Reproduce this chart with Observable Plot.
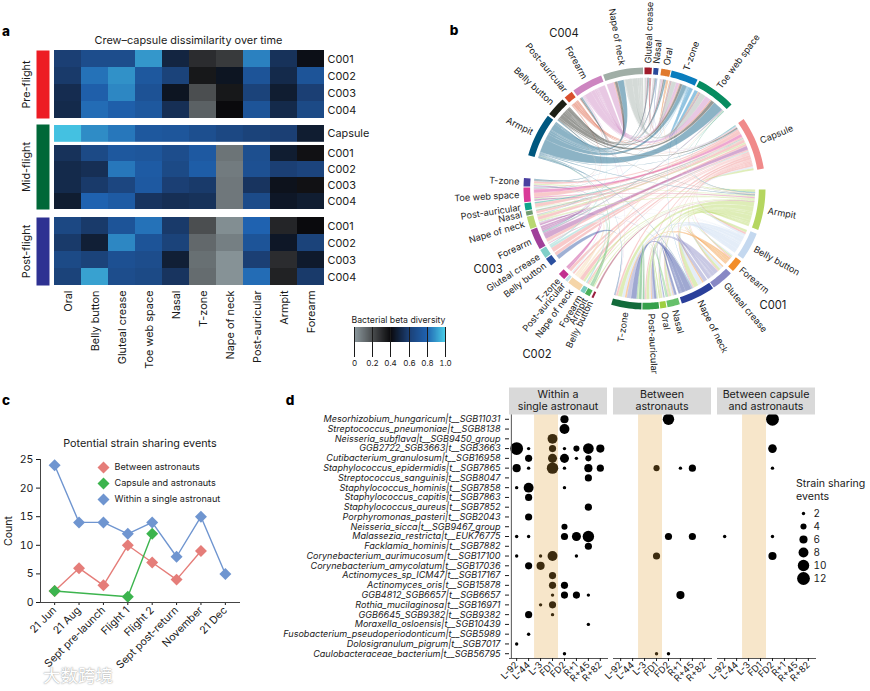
<!DOCTYPE html>
<html><head><meta charset="utf-8">
<script src="https://cdn.jsdelivr.net/npm/d3@7"></script>
<script src="https://cdn.jsdelivr.net/npm/@observablehq/plot@0.6"></script>
<style>
html,body{margin:0;padding:0;background:#fff}
#page{position:relative;width:870px;height:691px;overflow:hidden;font-family:Inter,"Liberation Sans",sans-serif;color:#1a1a1a}
#page svg{position:absolute;max-width:none}
.t{position:absolute;white-space:nowrap;transform:translate(-50%,-50%);line-height:1.25;text-align:center}
</style></head><body><div id="page"></div>
<script>
// ---------- panel a ----------
const sites=["Oral","Belly button","Gluteal crease","Toe web space","Nasal","T-zone","Nape of neck","Post-auricular","Armpit","Forearm"];
const crew=["C001","C002","C003","C004"];
const preFlight=[[.60,.68,.68,.90,.50,.30,.26,.86,.55,.42],[.58,.83,.89,.74,.62,.36,.44,.72,.52,.72],[.53,.78,.87,.71,.44,.20,.36,.62,.47,.60],[.52,.82,.78,.74,.54,.15,.40,.72,.52,.66]];
const capsuleRow=[[.98,.88,.84,.74,.73,.69,.65,.62,.60,.47]];
const midFlight=[[.55,.66,.74,.73,.68,.75,.10,.69,.47,.38],[.52,.54,.84,.76,.66,.77,.08,.70,.60,.63],[.52,.58,.64,.75,.60,.58,.09,.56,.43,.38],[.47,.80,.76,.56,.54,.55,.09,.67,.45,.47]];
const postFlight=[[.65,.58,.72,.83,.58,.20,.03,.80,.32,.40],[.58,.48,.87,.72,.62,.13,.07,.72,.45,.62],[.66,.62,.70,.68,.48,.11,.02,.60,.30,.46],[.62,.92,.68,.66,.56,.12,.02,.82,.33,.58]];
const divStops=[0,.2,.4,.6,.8,1];
const divColors=["#8c999e","#4b4e50","#0a0a0d","#1b3f74","#1f62b0","#48cbe6"];
// ---------- panel b ----------
const sectorIds=["Ar4","BB4","PA4","FA4","NN4","GC4","Ns4","Or4","TZ4","TW4","Ca","Ar1","BB1","FA1","GC1","NN1","Ns1","Or1","PA1","TZ1","BB2","Ar2","FA2","NN2","PA2","TZ2","BB3","GC3","FA3","NN3","Ns3","PA3","TW3","TZ3"];
const sectorLabels=["Armpit","Belly button","Post-auricular","Forearm","Nape of neck","Gluteal crease","Nasal","Oral","T-zone","Toe web space","Capsule","Armpit","Belly button","Forearm","Gluteal crease","Nape of neck","Nasal","Oral","Post-auricular","T-zone","Belly button","Armpit","Forearm","Nape of neck","Post-auricular","T-zone","Belly button","Gluteal crease","Forearm","Nape of neck","Nasal","Post-auricular","Toe web space","T-zone"];
const sectorStart=[286,308,318.7,324,340,0,4.3,8,13,27,55,90.5,112,127,134.5,145.5,163,169.5,173,181.5,205,207,209.8,212.5,219.5,221.5,230.5,235,240,250.5,257,259.5,263.5,271];
const sectorEnd=[307,317.4,323,339,359.3,3.5,6.7,12.5,26,46,80.5,110,125.5,133,145,162,169,172.5,181,196,206,209.5,212,219,221,225,234.5,239.5,250,256.5,259,263,270.5,275];
const sectorColors=["#00577f","#1d2016","#d94f2e","#cd85c0","#a0aea6","#a01c2b","#2b4a9a","#e07a2e","#0a7dbd","#078c60","#f08a8a","#b5d660","#c4d8ef","#f28e2b","#8888c4","#2a3f9a","#66c06a","#9ecf40","#35a04b","#126b3a","#9a2040","#4bb05a","#7ccdc0","#f5d5a8","#c4e0e8","#c22f8f","#2b4f9f","#7fcfc8","#a0409a","#b8d870","#6f9b70","#0fa58c","#d93a98","#4a3fa0"];
const chordLinks=[
["Ca","TZ3",1.2],["Ca","TW3",2.5],["Ca","PA3",1],["Ca","Ns3",.5],["Ca","NN3",2],["Ca","FA3",1.5],["Ca","GC3",1],["Ca","BB3",.5],["Ca","TZ1",1.5],["Ca","PA1",1.5],["Ca","NN1",1],["Ca","Ns1",.7],["Ca","Or1",.3],["Ca","GC1",.8],["Ca","FA1",.8],["Ca","BB1",1.2],["Ca","TZ2",.5],["Ca","NN2",.7],["Ca","FA2",.3],["Ca","PA2",.3],
["Ar1","TZ1",3],["Ar1","PA1",3],["Ar1","Or1",1],["Ar1","Ns1",1.5],["Ar1","NN1",3],["Ar1","GC1",1.5],["Ar1","FA1",.8],["Ar1","BB1",1.5],["Ar1","Ca",1.5],["Ar1","TZ3",.6],["Ar1","NN3",.6],["Ar1","TW3",.4],["Ar1","NN2",.4],["Ar1","FA2",.2],["Ar1","PA3",.2],["Ar1","Ar2",.2],
["BB1","NN1",3],["BB1","TZ1",2],["BB1","PA1",1.5],["BB1","Ns1",1],["BB1","Or1",.5],["BB1","GC1",2],["BB1","FA1",.7],["BB1","NN3",.3],["BB1","FA3",.3],["BB1","Ca",1],
["FA1","TZ1",1.3],["FA1","PA1",1],["FA1","NN1",1],["FA1","Ns1",.5],["FA1","GC1",.8],
["GC1","TZ1",3],["GC1","PA1",2],["GC1","NN1",2.5],["GC1","Ns1",.6],["GC1","Or1",.3],
["NN1","TZ1",4],["NN1","PA1",2.5],["NN1","Ns1",1.5],["NN1","Or1",.6],["NN1","NN3",.3],
["Ns1","TZ1",1],["Ns1","PA1",.7],["Or1","TZ1",.5],["Or1","PA1",.5],["PA1","TZ1",2],
["BB2","Ar1",.3],["Ar2","Ar4",.3],["Ar2","TW3",.3],["FA2","TZ3",.3],["NN2","FA3",.4],["NN2","TW4",.4],["NN2","NN3",.3],["PA2","PA3",.2],["TZ2","NN3",.3],["TZ2","FA3",.3],
["FA3","Ca",2.5],["FA3","NN3",1],["FA3","TW3",.8],["FA3","TZ3",.6],["FA3","TW4",.5],
["TW3","Ca",2],["TW3","Ar1",.6],["NN3","Ca",1],["NN3","Ar1",.5],["PA3","Ca",.4],["Ns3","Ca",.3],["GC3","Ca",.5],["GC3","FA4",.3],["BB3","TZ1",.6],
["TW4","Ca",.4],["TW4","Ar1",.4],["TW4","FA3",.3],
["TZ4","TW4",2.5],["TZ4","Ar1",.4],["TZ4","Ca",.5],["TZ4","NN1",.3],["TZ4","TZ3",.3],["TZ4","NN3",.3],
["Or4","TW4",.8],["Or4","TZ4",.6],["Or4","Ar1",.3],["Ns4","TW4",.5],["Ns4","TZ4",.4],["GC4","TW4",.6],["GC4","TZ4",.5],
["NN4","TW4",4],["NN4","TZ4",3],["NN4","Or4",1],["NN4","Ns4",1],["NN4","GC4",1],["NN4","Ca",.4],["NN4","Ar1",.3],
["FA4","NN4",4],["FA4","TW4",4],["FA4","TZ4",2],["FA4","Or4",1],["FA4","Ns4",.6],["FA4","GC4",.5],["FA4","Ca",.5],["FA4","PA1",.3],["FA4","TW3",.3],["FA4","TZ1",.3],
["PA4","TW4",.8],["PA4","NN4",.6],["PA4","TZ4",.6],["PA4","FA4",.4],["PA4","Or4",.2],["PA4","Ca",.2],["PA4","NN3",.2],["PA4","TW3",.2],
["Ar4","TW4",7],["Ar4","NN4",3.5],["Ar4","TZ4",3],["Ar4","Or4",1.2],["Ar4","Ns4",1],["Ar4","GC4",.5],["Ar4","FA4",.7],["Ar4","BB4",.5],["Ar4","Ca",.4],["Ar4","Ar1",.5],["Ar4","NN1",.4],["Ar4","TZ1",.4],["Ar4","TZ3",.5],["Ar4","FA3",.3],["Ar4","TW3",.4],
["BB4","TW4",2.3],["BB4","NN4",1.5],["BB4","TZ4",1.5],["BB4","Or4",.8],["BB4","Ns4",.5],["BB4","GC4",.5],["BB4","FA4",.6],["BB4","Ca",.8],["BB4","TZ3",.3],["BB4","Ar1",.3]
];
// ---------- panel c ----------
const events=["21 Jun","21 Aug","Sept pre-launch","Flight 1","Flight 2","Sept post-return","November","21 Dec"];
const seriesNames=["Between astronauts","Capsule and astronauts","Within a single astronaut"];
const seriesColors=["#e57d79","#3cb44e","#6f95d0"];
const betweenCounts=[2,6,3,10,7,4,9,null];
const capsuleCounts=[2,null,null,1,12,null,null,null];
const withinCounts=[24,14,14,12,14,8,15,5];
// ---------- panel d ----------
const timepoints=["L-92","L-44","L-3","FD1","FD2","R+1","R+45","R+82"];
const panels=["Within a single astronaut","Between astronauts","Between capsule and astronauts"];
const species=["Mesorhizobium_hungaricum|t__SGB11031","Streptococcus_pneumoniae|t__SGB8138","Neisseria_subflava|t__SGB9450_group","GGB2722_SGB3663|t__SGB3663","Cutibacterium_granulosum|t__SGB16958","Staphylococcus_epidermidis|t__SGB7865","Streptococcus_sanguinis|t__SGB8047","Staphylococcus_hominis|t__SGB7858","Staphylococcus_capitis|t__SGB7863","Staphylococcus_aureus|t__SGB7852","Porphyromonas_pasteri|t__SGB2043","Neisseria_sicca|t__SGB9467_group","Malassezia_restricta|t__EUK76775","Facklamia_hominis|t__SGB7882","Corynebacterium_aurimucosum|t__SGB17100","Corynebacterium_amycolatum|t__SGB17036","Actinomyces_sp_ICM47|t__SGB17167","Actinomyces_oris|t__SGB15878","GGB4812_SGB6657|t__SGB6657","Rothia_mucilaginosa|t__SGB16971","GGB6645_SGB9382|t__SGB9382","Moraxella_osloensis|t__SGB10439","Fusobacterium_pseudoperiodonticum|t__SGB5989","Dolosigranulum_pigrum|t__SGB7017","Caulobacteraceae_bacterium|t__SGB56795"];
const withinMatrix=[[0,0,0,0,6,0,0,0],[0,0,0,0,8,0,0,0],[0,0,0,8,0,0,0,0],[12,2,0,5,2,4,9,6],[0,5,0,7,7,2,4,0],[6,2,0,10,2,0,6,5],[0,0,0,0,0,0,5,0],[2,8,0,0,2,0,0,0],[0,5,0,0,0,0,0,0],[0,0,0,0,0,0,5,0],[0,5,0,0,0,0,0,0],[0,0,0,0,4,0,0,0],[2,2,0,0,5,7,10,0],[0,0,0,0,0,0,5,0],[2,0,2,8,0,2,0,0],[0,5,6,0,0,0,0,0],[0,0,0,5,0,0,0,0],[0,0,0,5,5,0,0,0],[0,0,0,2,5,5,2,0],[0,0,2,5,0,0,0,0],[0,5,0,2,0,0,0,0],[0,0,0,0,0,0,2,0],[0,2,0,0,0,0,0,0],[2,0,0,0,0,0,0,0],[0,0,0,0,2,0,0,0]];
const betweenMatrix=[[0,0,0,0,10,0,0,0],[],[],[],[],[0,0,0,4,0,2,5,0],[],[],[],[],[],[],[0,0,0,0,5,0,5,0],[],[0,0,0,5,0,0,0,0],[],[],[],[0,0,0,0,0,6,0,0],[],[],[],[],[],[0,0,0,2,2,0,0,0]];
const capsuleMatrix=[[0,0,0,0,12,0,0,0],[],[],[0,0,0,0,6.5,0,0,0],[],[0,0,0,0,2,0,0,0],[],[],[],[],[],[],[2,0,0,0,2,0,0,0],[],[0,0,0,0,6,0,0,0],[],[],[],[],[],[],[],[],[],[]];
const sizeLegend=[2,4,6,8,10,12];

// ---------- helpers ----------
const FONT="Inter, 'Liberation Sans', sans-serif";
const page=document.getElementById("page");
const place=(el,left,top)=>{el.style.left=left+"px";el.style.top=top+"px";page.appendChild(el);return el;};
const base=(size,extra={})=>({style:{background:"transparent",overflow:"visible",fontFamily:FONT,fontSize:size+"px",color:"#1a1a1a",...extra}});
const label=(html,x,y,css="")=>{const d=document.createElement("div");d.className="t";d.innerHTML=html;d.style.cssText=`left:${x}px;top:${y}px;${css}`;page.appendChild(d);return d;};

// ---------- panel a ----------
const colorScale={type:"linear",domain:divStops,range:divColors};
function heatBlock(rows,matrix,top,rowH,showX){
  const data=rows.flatMap((r,i)=>sites.map((s,j)=>({row:r,site:s,v:matrix[i][j]})));
  return place(Plot.plot({...base(10.9),width:400,height:rowH*rows.length+(showX?85:0),
    marginLeft:54,marginRight:76,marginTop:0,marginBottom:showX?85:0,
    x:{domain:sites,padding:0,round:false,axis:showX?"bottom":null,tickRotate:-90,tickSize:0,tickPadding:5,label:null},
    y:{domain:rows,padding:0,round:false,axis:"right",tickSize:0,tickPadding:3,label:null},
    color:colorScale,
    marks:[Plot.cell(data,{x:"site",y:"row",fill:"v"})]}),0,top);
}
heatBlock(crew,preFlight,50,17,false);
heatBlock(["Capsule"],capsuleRow,125,16.8,false);
heatBlock(crew,midFlight,145,16,false);
heatBlock(crew,postFlight,217,17,true);
function groupBar(name,color,top,h){
  place(Plot.plot({...base(10.9),width:49,height:h,marginLeft:36,marginRight:0,marginTop:0,marginBottom:0,
    marks:[Plot.frame({fill:color,stroke:"none"}),
      Plot.text([name],{text:d=>d,frameAnchor:"left",dx:-10,rotate:-90,textAnchor:"middle",fill:"#1a1a1a"})]}),0,top);
}
groupBar("Pre-flight","#ed1c24",50,68);
groupBar("Mid-flight","#006838",124,85);
groupBar("Post-flight","#2e3192",217,68);
label("Crew–capsule dissimilarity over time",188.5,41,"font-size:10.9px");
label("Bacterial beta diversity",398.5,320,"font-size:8.7px");
const lg=Plot.legend({color:{...colorScale,label:null},width:101,height:27,marginLeft:5,marginRight:5,marginTop:0,marginBottom:12,
  ticks:divStops,tickFormat:d=>d===0?"0":d3.format(".1f")(d),tickSize:15,style:{background:"transparent",fontFamily:FONT,fontSize:"8px",overflow:"visible",color:"#1a1a1a"}});
lg.style.position="absolute";place(lg,349,327);

// ---------- panel b ----------
const CX=214,CY=188,R=121,W=440,H=400;     // svg placed at x=430
const sector=sectorIds.map((id,i)=>({id,label:sectorLabels[i],a0:sectorStart[i],a1:sectorEnd[i],color:sectorColors[i],items:[]}));
const byId=new Map(sector.map(s=>[s.id,s]));
const mid=s=>(s.a0+s.a1)/2;
const linkObjs=chordLinks.map(([f,t,w])=>({f:byId.get(f),t:byId.get(t),w}));
linkObjs.forEach(l=>{l.fEnd={other:l.t,w:l.w};l.tEnd={other:l.f,w:l.w};l.f.items.push(l.fEnd);l.t.items.push(l.tEnd);});
sector.forEach(s=>{
  const tot=d3.sum(s.items,d=>d.w),span=s.a1-s.a0;
  s.items.sort((p,q)=>((mid(q.other)-mid(s)+360)%360)-((mid(p.other)-mid(s)+360)%360));
  let c=s.a0;
  s.items.forEach(it=>{it.a0=c;c+=it.w/tot*span;it.a1=c;});
});
const pt=(deg,r)=>{const a=deg*Math.PI/180;return [r*Math.sin(a),-r*Math.cos(a)];};
const arcPts=(a0,a1,r,n=6)=>d3.range(n+1).map(i=>pt(a0+(a1-a0)*i/n,r));
const bez=(p,q,n=26)=>d3.range(1,n).map(i=>{const t=i/n,u=1-t;return [u*u*p[0]+t*t*q[0],u*u*p[1]+t*t*q[1]];});
const rL=.915,rI=.945,rO=1;
const ribbonData=linkObjs.flatMap((l,i)=>{
  const A=arcPts(l.fEnd.a0,l.fEnd.a1,rL),B=arcPts(l.tEnd.a0,l.tEnd.a1,rL);
  const poly=[...A,...bez(A[A.length-1],B[0]),...B,...bez(B[B.length-1],A[0])];
  return poly.map(p=>({id:i,x:p[0],y:p[1],color:l.f.color}));
});
const ringData=sector.flatMap(s=>[...arcPts(s.a0,s.a1,rO,10),...arcPts(s.a1,s.a0,rI,10)].map(p=>({id:s.id,x:p[0],y:p[1],color:s.color})));
const sLabels=sector.map(s=>{const m=mid(s),p=pt(m,1.035);const right=m<180;return {label:s.label,x:p[0],y:p[1],rot:right?m-90:m+90,right};});
const textCommon={x:"x",y:"y",text:"label",rotate:"rot",fill:"#1a1a1a"};
place(Plot.plot({...base(9.1),width:W,height:H,margin:0,
  x:{domain:[-CX/R,(W-CX)/R],range:[0,W],axis:null},
  y:{domain:[-CY/R,(H-CY)/R],range:[0,H],axis:null},
  marks:[
    Plot.line(ribbonData,{x:"x",y:"y",z:"id",fill:"color",fillOpacity:.45,stroke:"white",strokeWidth:.2,strokeOpacity:.7,curve:"linear"}),
    Plot.line(ringData,{x:"x",y:"y",z:"id",fill:"color",stroke:"none",curve:"linear"}),
    Plot.text(sLabels.filter(d=>d.right),{...textCommon,textAnchor:"start"}),
    Plot.text(sLabels.filter(d=>!d.right),{...textCommon,textAnchor:"end"})
  ]}),430,0);
label("C004",564,33,"font-size:11.2px");label("C001",773,305,"font-size:11.2px");label("C002",537,354,"font-size:11.2px");label("C003",488,269,"font-size:11.2px");

// ---------- panel c ----------
const tidy=(vals,name)=>events.map((e,i)=>({event:e,n:vals[i],series:name})).filter(d=>d.n!=null);
const seriesData=[tidy(betweenCounts,seriesNames[0]),tidy(capsuleCounts,seriesNames[1]),tidy(withinCounts,seriesNames[2])];
const seriesMarks=[0,2,1].flatMap(i=>[
  Plot.line(seriesData[i],{x:"event",y:"n",stroke:seriesColors[i],strokeWidth:1.4}),
  Plot.dot(seriesData[i],{x:"event",y:"n",symbol:"diamond2",r:5.4,fill:seriesColors[i]})
]);
place(Plot.plot({...base(10.6),width:250,height:232,marginLeft:40,marginRight:11,marginTop:19,marginBottom:70,
  x:{type:"point",domain:events,padding:.58,round:false,tickRotate:-45,tickSize:3,tickPadding:3,label:null},
  y:{domain:[0,25],ticks:[0,5,10,15,20,25],tickSize:4,tickPadding:3,label:"Count",labelAnchor:"center",labelArrow:"none",labelOffset:36},
  marks:[...seriesMarks,Plot.frame({anchor:"left",stroke:"#444"}),Plot.frame({anchor:"bottom",stroke:"#444"})]}),0,440);
label("Potential strain sharing events",140,444,"font-size:10.8px");
place(Plot.plot({...base(9.1),width:150,height:48,margin:0,
  y:{type:"point",domain:seriesNames,padding:.5,axis:null},
  marks:[Plot.dot(seriesNames,{y:d=>d,frameAnchor:"left",dx:6,symbol:"diamond2",r:5.4,fill:(d,i)=>seriesColors[i]}),
    Plot.text(seriesNames,{y:d=>d,text:d=>d,frameAnchor:"left",dx:17,textAnchor:"start",fill:"#1a1a1a"})]}),97,459);

// ---------- panel d ----------
const matrices=[withinMatrix,betweenMatrix,capsuleMatrix];
const dotData=panels.flatMap((p,k)=>species.flatMap((s,i)=>timepoints.map((t,j)=>({panel:p,sp:s,tp:t,n:(matrices[k][i]||[])[j]||0}))).filter(d=>d.n>0));
const rScale={type:"sqrt",domain:[2,12],range:[1.7,6.4]};
place(Plot.plot({...base(9.2),width:815,height:284,marginLeft:509,marginRight:0,marginTop:0,marginBottom:40,
  fx:{domain:panels,paddingInner:.0577,paddingOuter:0,round:false,axis:null},
  x:{type:"point",domain:timepoints,padding:.6,round:false,axis:null},
  y:{type:"point",domain:species,padding:.49,round:false,axis:null},
  r:rScale,
  marks:[
    Plot.dot(dotData,{x:"tp",y:"sp",r:"n",fx:"panel",fill:"black",stroke:"none"}),
    Plot.rect([0],{x1:()=>"L-3",x2:()=>"FD1",insetLeft:-6,insetRight:-6,fill:"#e1a33b",fillOpacity:.27}),
    Plot.frame({anchor:"bottom",stroke:"#555"}),
    Plot.ruleX([0],{x:()=>"L-92",dx:-5.3,fx:()=>panels[0],stroke:"#555"}),
    Plot.axisY({anchor:"left",tickSize:4,tickPadding:5,label:null,fontStyle:"italic",fontSize:9.05}),
    Plot.axisX({anchor:"bottom",tickRotate:-45,tickSize:3,tickPadding:2,label:null,fontSize:9.2})
  ]}),0,414);
const headers=["Within a<br>single astronaut","Between<br>astronauts","Between capsule<br>and astronauts"];
[[509,98],[613,98],[717,98]].forEach(([x,w],i)=>{
  label(headers[i],x+w/2,400.5,`width:${w}px;height:27px;background:#d9d9d9;font-size:10.7px;display:flex;align-items:center;justify-content:center;line-height:12.5px`);
});
label("Strain sharing<br>events",831,490,"font-size:10.6px;text-align:left;line-height:13px;width:70px");
place(Plot.plot({...base(10),width:50,height:79,margin:0,
  y:{type:"point",domain:sizeLegend,padding:.5,axis:null},
  r:rScale,
  marks:[Plot.dot(sizeLegend,{y:d=>d,r:d=>d,frameAnchor:"left",dx:8,fill:"black"}),
    Plot.text(sizeLegend,{y:d=>d,text:d=>d,frameAnchor:"left",dx:18,textAnchor:"start",fill:"#1a1a1a"})]}),795,505.5);

// ---------- panel letters & mark ----------
[["a",6,31],["b",454,30],["c",6,400],["d",290,400]].forEach(([s,x,y])=>label(s,x,y,"font-size:13.5px;font-weight:800;color:#000"));
label("大数跨境",78,675,"font-family:'Noto Sans CJK SC';font-size:17.5px;color:#fff;opacity:.9;text-shadow:0 0 1px #999,0 0 2px #aaa");
</script></body></html>
